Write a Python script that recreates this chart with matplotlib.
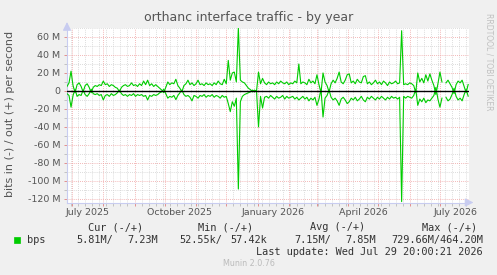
import datetime as dt
import numpy as np
import matplotlib
matplotlib.use("Agg")
import matplotlib.pyplot as plt
import matplotlib.dates as mdates
import matplotlib.transforms as mtransforms
from matplotlib.patches import Rectangle

# daily-ish samples (every 2 days), values in Mbit/s
start_date = dt.datetime(2025, 6, 26)
step_days = 2

out_mbps = [
    5, 9, 22, 6, -2, 7, 9, 5, -1, 6, 8, 4, -2, 4, 6, 5, 7, 6, 11, 7,
    8, 5, 7, 6, 4, 3, -1, 4, 6, 7, 5, 6, 9, 6, 7, 5, 8, 6, 11, 7,
    12, 6, 8, 5, 7, 5, 3, 1, -2, 4, 10, 7, 9, 8, 13, 6, 3, -1, 6, 8,
    12, 7, 9, 6, 8, 12, 7, 8, 6, 9, 7, 8, 6, 9, 7, 11, 8, 7, 13, 8,
    34, 12, 20, 21, 10, 70, 12, 10, 9, 6, 3, 1.5, -1, 1, -0.5, 21, 8, 14, 9, 7,
    10, 8, 9, 7, 10, 8, 11, 9, 8, 10, 7, 9, 8, 11, 9, 30, 8, 10, 9, 7,
    13, 9, 11, 8, 18, 7, -2, 20, 10, 6, -1, 8, 12, 9, 14, 21, 10, 8, 12, 18,
    19, 9, 11, 8, 13, 10, 9, 16, 17, 8, 10, 7, 9, 12, 8, 10, 7, 11, 9, 6,
    10, 8, 9, 11, 8, 9, 67, 7, 8, 7, 9, 8, 6, -2, 20, 10, 14, 9, 18, 11,
    19, 12, 6, -4, 8, 21, 10, np.nan, 9, 12, 8, 4, -3, 7, 11, 9, 12, 5, -2, 7.2,
]

in_mbps = [
    3, 5, 18, 5, -2, 6, 4, 5, -1, 4, 6, 3, -2, 3, 4, 3, 5, 4, 10, 5,
    4, 6, 3, 5, 4, 2, -1, 3, 5, 4, 6, 4, 5, 3, 6, 4, 5, 4, 6, 5,
    10, 5, 6, 4, 5, 4, 2, 1, -2, 3, 8, 6, 7, 5, 9.6, 5, 2, -1, 4, 6,
    5, 7, 11, 5, 6, 8, 5, 6, 4, 7, 5, 6, 4, 7, 5, 6, 8, 5, 7, 6,
    14, 23, 12, 17, 8, 109, 12, 6, 4, 3, 2, 1, -1, 1, -0.5, 40, 6, 19, 7, 6,
    8, 5, 7, 9, 6, 8, 7, 5, 9, 6, 8, 7, 6, 9, 7, 10, 8, 6, 9, 7,
    11, 8, 10, 7, 16, 9, -2, 29, 8, 5, -1, 7, 10, 8, 11, 16, 9, 7, 10, 14,
    12, 8, 10, 7, 11, 9, 6, 10, 12, 7, 9, 6, 8, 10, 7, 9, 6, 8, 10, 7,
    9, 6, 8, 7, 9, 7, 123, 6, 8, 6, 7, 8, 5, -2, 16, 9, 12, 8, 13, 10,
    11, 8, 5, -4, 9, 18, 8, np.nan, 7, 11, 9, 4, -3, 6, 10, 8, 11, 4, -2, 5.8,
]

y_ticks = [60, 40, 20, 0, -20, -40, -60, -80, -100, -120]
x_labels = ["July 2025", "October 2025", "January 2026", "April 2026", "July 2026"]
x_label_dates = [dt.datetime(2025, 7, 16), dt.datetime(2025, 10, 16), dt.datetime(2026, 1, 16),
                 dt.datetime(2026, 4, 16), dt.datetime(2026, 7, 16)]

legend_headers = ["Cur (-/+)", "Min (-/+)", "Avg (-/+)", "Max (-/+)"]
legend_values = ["5.81M/", "7.23M", "52.55k/", "57.42k", "7.15M/", "7.85M", "729.66M/464.20M"]

W, H = 497, 275
BG = "#F0F0F0"
GREEN = "#00CC00"
TXT = "#555555"
AXIS = "#C8CCF0"

def fx(px):
    return px / W

def fy(py):
    return 1 - py / H

fig = plt.figure(figsize=(W / 100, H / 100), dpi=100, facecolor=BG)
ax = fig.add_axes([fx(67), fy(202.5), fx(469) - fx(67), fy(28) - fy(202.5)])
ax.set_facecolor("white")

dates = [start_date + dt.timedelta(days=step_days * i) for i in range(len(out_mbps))]
out_arr = np.array(out_mbps, dtype=float)
in_arr = np.array(in_mbps, dtype=float)

ax.plot(dates, out_arr, color=GREEN, lw=0.8, zorder=3)
ax.plot(dates, -in_arr, color=GREEN, lw=0.8, zorder=3)
ax.axhline(0, color="black", lw=1.0, zorder=4)

ax.set_xlim(dt.datetime(2025, 6, 26), dt.datetime(2026, 7, 29, 20))
ax.set_ylim(-124, 70)

# grid: months major (red), weeks minor (grey)
ax.xaxis.set_major_locator(mdates.MonthLocator())
ax.xaxis.set_minor_locator(mdates.WeekdayLocator(byweekday=mdates.MO))
ax.xaxis.set_major_formatter(plt.NullFormatter())
ax.set_yticks(y_ticks)
ax.set_yticks(np.arange(-120, 71, 10), minor=True)
ax.set_yticklabels([("%d M" % v) if v != 0 else "0" for v in y_ticks])

ax.grid(which="minor", color="#D0D0D0", ls=(0, (1, 1.5)), lw=0.6, zorder=1)
ax.grid(which="major", color="#EFA0A0", ls=(0, (1, 1.5)), lw=0.6, zorder=2)

ax.tick_params(which="major", length=2, width=0.6, color="#E08080", labelsize=6.8, labelcolor=TXT, pad=3)
ax.tick_params(which="minor", length=2, width=0.6, color="#BBBBBB")
ax.tick_params(axis="x", which="both", length=2)

for side in ["top", "right"]:
    ax.spines[side].set_visible(False)
for side in ["left", "bottom"]:
    ax.spines[side].set_color(AXIS)
    ax.spines[side].set_linewidth(0.8)

# axis arrows like rrdtool
ax.annotate("", xy=(1.018, 0), xytext=(0.99, 0), xycoords="axes fraction",
            arrowprops=dict(arrowstyle="-|>,head_length=0.5,head_width=0.25", color=AXIS, lw=0.8))
ax.annotate("", xy=(0, 1.05), xytext=(0, 0.99), xycoords="axes fraction",
            arrowprops=dict(arrowstyle="-|>,head_length=0.5,head_width=0.25", color=AXIS, lw=0.8))

# x labels centred mid-month
trans = mtransforms.blended_transform_factory(ax.transData, fig.transFigure)
for lab, d in zip(x_labels, x_label_dates):
    ax.text(d, fy(212.5), lab, transform=trans, ha="center", va="center", fontsize=6.8, color=TXT)

fig.text(0.5, fy(18), "orthanc interface traffic - by year", ha="center", va="center",
         fontsize=9, color=TXT)
fig.text(fx(10), fy(114), "bits in (-) / out (+) per second", rotation=90,
         ha="center", va="center", fontsize=8, color=TXT)
fig.text(fx(489), fy(62), "RRDTOOL / TOBI OETIKER", rotation=270, ha="center", va="center",
         fontsize=5.5, color="#C0C0C0")

# legend block (monospace, like rrdtool)
mono = dict(family="DejaVu Sans Mono", fontsize=7.4, color="#333333", va="center")
header_right = [143, 253, 365, 477]
for txt, xr in zip(legend_headers, header_right):
    fig.text(fx(xr), fy(227), txt, ha="right", **mono)

fig.patches.append(Rectangle((fx(14), fy(243)), fx(6), 6 / H, transform=fig.transFigure,
                             facecolor=GREEN, edgecolor=GREEN, lw=0.5))
fig.text(fx(27), fy(240), "bps", ha="left", **mono)
value_right = [113, 158, 222, 267, 331, 376, 483]
for txt, xr in zip(legend_values, value_right):
    fig.text(fx(xr), fy(240), txt, ha="right", **mono)

fig.text(fx(483), fy(252), "Last update: Wed Jul 29 20:00:21 2026", ha="right", **mono)
fig.text(0.5, fy(264), "Munin 2.0.76", ha="center", va="center", fontsize=5.8, color="#BBBBBB")

fig.savefig("out.png", dpi=100, facecolor=BG)
